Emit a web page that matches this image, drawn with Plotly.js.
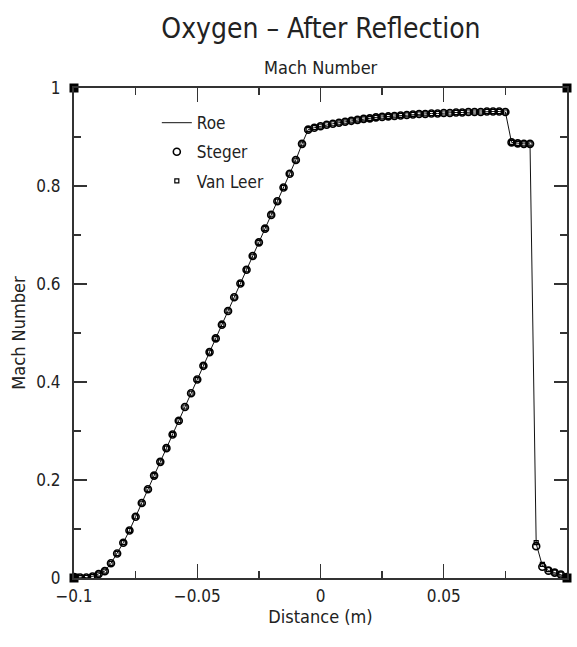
<!DOCTYPE html>
<html>
<head>
<meta charset="utf-8">
<script src="https://cdn.plot.ly/plotly-3.0.1.min.js"></script>
<style>html,body{margin:0;padding:0;background:#fff;}#chart{width:577px;height:647px;}</style>
</head>
<body>
<div id="chart"></div>
<script>
// Distance (m)
var distance = [
  -0.1, -0.0975, -0.095, -0.0925, -0.09, -0.0875, -0.085, -0.0825, -0.08, -0.0775,
  -0.075, -0.0725, -0.07, -0.0675, -0.065, -0.0625, -0.06, -0.0575, -0.055, -0.0525,
  -0.05, -0.0475, -0.045, -0.0425, -0.04, -0.0375, -0.035, -0.0325, -0.03, -0.0275,
  -0.025, -0.0225, -0.02, -0.0175, -0.015, -0.0125, -0.01, -0.0075, -0.005, -0.0025,
  0, 0.0025, 0.005, 0.0075, 0.01, 0.0125, 0.015, 0.0175, 0.02, 0.0225,
  0.025, 0.0275, 0.03, 0.0325, 0.035, 0.0375, 0.04, 0.0425, 0.045, 0.0475,
  0.05, 0.0525, 0.055, 0.0575, 0.06, 0.0625, 0.065, 0.0675, 0.07, 0.0725,
  0.075, 0.0775, 0.08, 0.0825, 0.085, 0.0875, 0.09, 0.0925, 0.095, 0.0975, 0.1
];
// Mach number, Roe scheme
var machRoe = [
  0.002, 0.001, 0.001, 0.003, 0.008, 0.014, 0.030, 0.050, 0.072, 0.097,
  0.125, 0.153, 0.181, 0.209, 0.237, 0.265, 0.293, 0.321, 0.349, 0.377,
  0.405, 0.433, 0.461, 0.489, 0.517, 0.545, 0.573, 0.601, 0.629, 0.657,
  0.685, 0.713, 0.741, 0.769, 0.797, 0.825, 0.853, 0.886, 0.915, 0.919,
  0.922, 0.925, 0.927, 0.929, 0.931, 0.933, 0.935, 0.937, 0.938, 0.940,
  0.941, 0.942, 0.943, 0.944, 0.945, 0.946, 0.947, 0.947, 0.948, 0.948,
  0.949, 0.949, 0.950, 0.950, 0.951, 0.951, 0.951, 0.952, 0.952, 0.952,
  0.951, 0.889, 0.887, 0.886, 0.886, 0.070, 0.025, 0.015, 0.011, 0.007, 0.002
];
// Mach number, Steger scheme
var machSteger = [
  0.002, 0.001, 0.001, 0.003, 0.008, 0.014, 0.030, 0.050, 0.072, 0.097,
  0.125, 0.153, 0.181, 0.209, 0.237, 0.265, 0.293, 0.321, 0.349, 0.377,
  0.405, 0.433, 0.461, 0.489, 0.517, 0.545, 0.573, 0.601, 0.629, 0.657,
  0.685, 0.713, 0.741, 0.769, 0.797, 0.825, 0.853, 0.886, 0.915, 0.919,
  0.922, 0.925, 0.927, 0.929, 0.931, 0.933, 0.935, 0.937, 0.938, 0.940,
  0.941, 0.942, 0.943, 0.944, 0.945, 0.946, 0.947, 0.947, 0.948, 0.948,
  0.949, 0.949, 0.950, 0.950, 0.951, 0.951, 0.951, 0.952, 0.952, 0.952,
  0.951, 0.889, 0.887, 0.886, 0.886, 0.065, 0.023, 0.015, 0.011, 0.007, 0.002
];
// Mach number, Van Leer scheme
var machVanLeer = [
  0.002, 0.001, 0.001, 0.003, 0.008, 0.014, 0.030, 0.050, 0.072, 0.097,
  0.125, 0.153, 0.181, 0.209, 0.237, 0.265, 0.293, 0.321, 0.349, 0.377,
  0.405, 0.433, 0.461, 0.489, 0.517, 0.545, 0.573, 0.601, 0.629, 0.657,
  0.685, 0.713, 0.741, 0.769, 0.797, 0.825, 0.853, 0.886, 0.915, 0.919,
  0.922, 0.925, 0.927, 0.929, 0.931, 0.933, 0.935, 0.937, 0.938, 0.940,
  0.941, 0.942, 0.943, 0.944, 0.945, 0.946, 0.947, 0.947, 0.948, 0.948,
  0.949, 0.949, 0.950, 0.950, 0.951, 0.951, 0.951, 0.952, 0.952, 0.952,
  0.951, 0.889, 0.887, 0.886, 0.886, 0.072, 0.028, 0.017, 0.012, 0.008, 0.002
];
// frame corner markers
var cornerX = [-0.1, -0.1, 0.1, 0.1];
var cornerY = [0, 1, 0, 1];

var FONT = 'DejaVu Sans Condensed, Liberation Sans Narrow, sans-serif';
var INK = '#222';

var traces = [
  {x: distance, y: machRoe, name: 'Roe', type: 'scatter', mode: 'lines', legendgroup: 'a',
   line: {color: '#111', width: 1}},
  {x: distance, y: machSteger, name: 'Steger', type: 'scatter', mode: 'markers', legendgroup: 'b',
   marker: {symbol: 'circle-open', size: 7, color: '#000', line: {width: 1.6, color: '#000'}}},
  {x: distance, y: machVanLeer, name: 'Van Leer', type: 'scatter', mode: 'markers', legendgroup: 'c',
   marker: {symbol: 'square-open', size: 4, color: '#000', line: {width: 1.2, color: '#000'}}},
  {x: cornerX, y: cornerY, name: 'corners', type: 'scatter', mode: 'markers',
   showlegend: false, cliponaxis: false, hoverinfo: 'skip',
   marker: {symbol: 'square', size: 9, color: '#000'}}
];

var layout = {
  width: 577, height: 647,
  paper_bgcolor: '#fff', plot_bgcolor: '#fff',
  margin: {l: 74, r: 10, t: 88, b: 69},
  font: {family: FONT, color: INK, size: 17},
  title: {text: 'Oxygen – After Reflection', font: {family: FONT, size: 28, color: INK},
          x: 0.5563, xanchor: 'center', y: 0.957, yanchor: 'middle'},
  showlegend: true,
  legend: {x: 0.168, y: 0.965, xanchor: 'left', yanchor: 'top', bgcolor: 'rgba(0,0,0,0)',
           font: {family: FONT, size: 17, color: INK}, traceorder: 'grouped', tracegroupgap: 4, itemwidth: 30},
  xaxis: {
    range: [-0.1, 0.1], tickvals: [-0.1, -0.05, 0, 0.05, 0.1],
    ticktext: ['−0.1', '−0.05', '0', '0.05', '0.1'],
    ticks: 'inside', ticklen: 14, tickwidth: 1.3, tickcolor: '#333',
    minor: {tickvals: [-0.075, -0.025, 0.025, 0.075], ticks: 'inside', ticklen: 7, tickwidth: 1.3, tickcolor: '#333'},
    showline: true, linecolor: '#333', linewidth: 2, mirror: 'ticks',
    showgrid: false, zeroline: false, ticklabelstandoff: 2,
    tickfont: {family: FONT, size: 17, color: INK},
    title: {text: 'Distance (m)', font: {family: FONT, size: 18, color: INK}, standoff: 2}
  },
  yaxis: {
    range: [0, 1], tickvals: [0, 0.2, 0.4, 0.6, 0.8, 1],
    ticktext: ['0', '0.2', '0.4', '0.6', '0.8', '1'],
    ticks: 'inside', ticklen: 13, tickwidth: 1.3, tickcolor: '#333',
    minor: {tickvals: [0.1, 0.3, 0.5, 0.7, 0.9], ticks: 'inside', ticklen: 7, tickwidth: 1.3, tickcolor: '#333'},
    showline: true, linecolor: '#333', linewidth: 2, mirror: 'ticks',
    showgrid: false, zeroline: false, ticklabelstandoff: 8,
    tickfont: {family: FONT, size: 17, color: INK},
    title: {text: 'Mach Number', font: {family: FONT, size: 18, color: INK}, standoff: 6}
  },
  annotations: [
    {text: 'Mach Number', xref: 'paper', yref: 'paper', x: 0.5, y: 1, yshift: 21,
     xanchor: 'center', yanchor: 'middle', showarrow: false,
     font: {family: FONT, size: 18, color: INK}}
  ]
};

Plotly.newPlot('chart', traces, layout, {displayModeBar: false, staticPlot: true});
</script>
</body>
</html>
